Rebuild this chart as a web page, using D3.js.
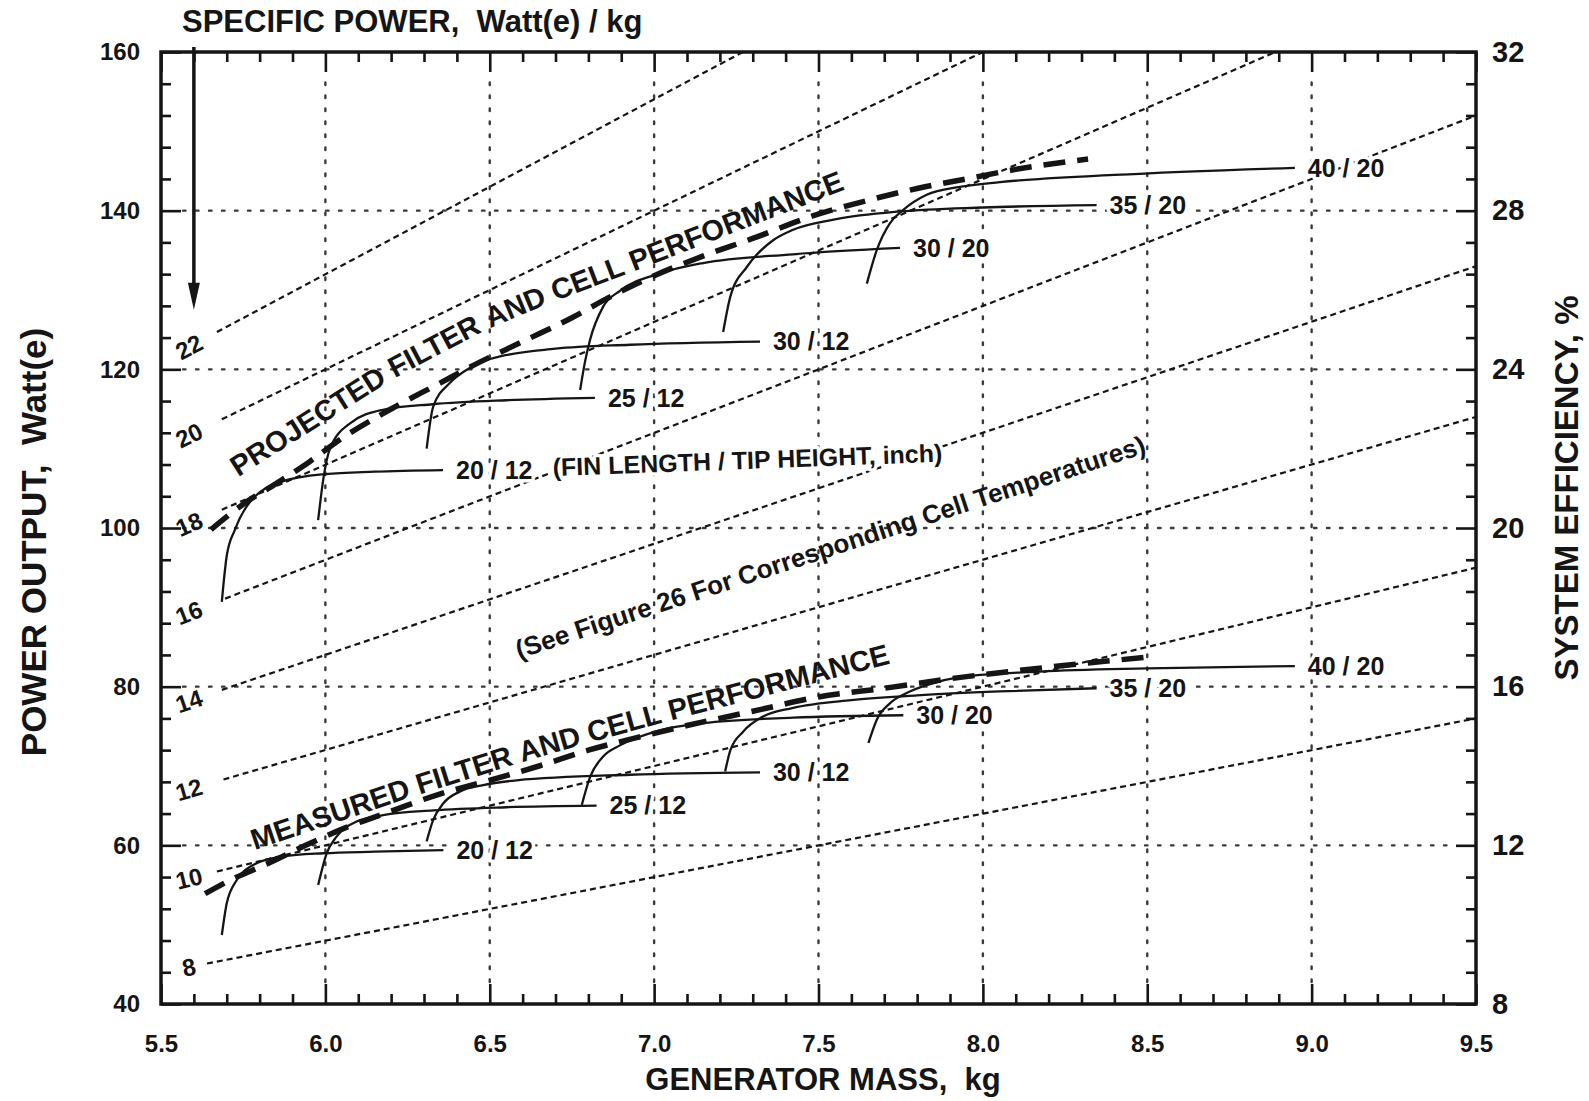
<!DOCTYPE html>
<html><head><meta charset="utf-8">
<script src="https://cdn.jsdelivr.net/npm/d3@7"></script>
<style>
html,body{margin:0;padding:0;background:#fff;}
svg{display:block;}
text{font-family:"Liberation Sans",Arial,Helvetica,sans-serif;font-weight:bold;fill:#151515;white-space:pre;}
.halo{paint-order:stroke;stroke:#fff;stroke-width:7px;stroke-linejoin:round;}
</style></head><body>
<svg id="chart" width="1589" height="1101"></svg>
<script>
// ---------- DATA ----------
const massTicks = [5.5, 6.0, 6.5, 7.0, 7.5, 8.0, 8.5, 9.0, 9.5];
const powerTicks = [40, 60, 80, 100, 120, 140, 160];
const efficiencyTicks = [8, 12, 16, 20, 24, 28, 32];
const massMinorStep = 0.1, powerMinorStep = 4, efficiencyMinorStep = 0.8;

const specificPower = [8, 10, 12, 14, 16, 18, 20, 22];
const specificPowerStart = [[5.64,45.1],[5.67,56.7],[5.69,68.3],[5.685,79.6],[5.695,91.1],[5.685,102.3],[5.685,113.7],[5.67,124.7]];
const specificPowerEnd = [[9.5,76],[9.5,95],[9.5,114],[9.5,133],[9.5,152],[8.89,160],[8.0,160],[7.27,160]];
const specificPowerLabelMass = 5.585;

const finLabels = ["20 / 12", "25 / 12", "30 / 12", "30 / 20", "35 / 20", "40 / 20"];

// projected filter and cell performance (mass kg, power W)
const projected_20_12 = [[5.685,90.7],[5.700,96.5],[5.725,99.8],[5.771,103.3],[5.871,105.9],[5.999,106.8],[6.15,107.1],[6.358,107.3]];
const projected_25_12 = [[5.978,101.0],[5.995,106.5],[6.014,110.0],[6.075,113.2],[6.175,114.9],[6.327,115.6],[6.55,116.1],[6.82,116.4]];
const projected_30_12 = [[6.308,110.0],[6.328,115.3],[6.379,118.3],[6.44,120.2],[6.501,121.3],[6.7,122.6],[6.927,123.1],[7.322,123.5]];
const projected_30_20 = [[6.775,117.4],[6.79,121.0],[6.805,123.7],[6.845,127.9],[6.896,129.9],[7.018,132.1],[7.149,133.4],[7.422,134.5],[7.748,135.3]];
const projected_35_20 = [[7.210,124.7],[7.232,129.2],[7.282,132.9],[7.363,136.3],[7.423,137.6],[7.55,138.9],[7.748,139.9],[8.0,140.4],[8.346,140.7]];
const projected_40_20 = [[7.647,130.8],[7.677,135.0],[7.717,138.4],[7.758,140.1],[7.829,142.0],[7.93,143.0],[8.052,143.6],[8.4,144.5],[8.949,145.4]];
const projectedEnvelope = [[5.652,99.8],[5.75,103.0],[5.85,105.6],[5.95,108.3],[6.05,111.3],[6.2,115.0],[6.35,118.3],[6.45,120.5],[6.6,123.5],[6.75,126.5],[6.86,129.0],[7.0,131.8],[7.15,134.3],[7.3,136.5],[7.48,139.3],[7.65,141.3],[7.8,142.8],[7.95,144.0],[8.1,145.2],[8.32,146.5]];

// measured filter and cell performance
const measured_20_12 = [[5.685,48.7],[5.70,52.7],[5.73,55.6],[5.771,57.3],[5.872,58.6],[5.994,59.0],[6.15,59.2],[6.359,59.4]];
const measured_25_12 = [[5.978,55.0],[6.004,59.0],[6.034,61.1],[6.095,63.0],[6.176,63.8],[6.328,64.4],[6.55,64.8],[6.825,65.0]];
const measured_30_12 = [[6.308,60.5],[6.328,63.2],[6.359,65.3],[6.41,66.8],[6.48,67.6],[6.582,68.2],[6.927,68.9],[7.322,69.2]];
const measured_30_20 = [[6.78,65.1],[6.805,68.6],[6.845,71.2],[6.896,72.6],[7.018,74.5],[7.15,75.4],[7.423,76.1],[7.758,76.4]];
const measured_35_20 = [[7.216,69.3],[7.232,72.0],[7.27,74.3],[7.33,76.2],[7.42,77.3],[7.6,78.3],[7.8,78.9],[8.05,79.4],[8.346,79.8]];
const measured_40_20 = [[7.652,72.9],[7.677,75.8],[7.717,77.9],[7.768,79.2],[7.829,80.2],[7.93,81.2],[8.174,81.9],[8.5,82.3],[8.949,82.6]];
const measuredEnvelope = [[5.634,53.9],[5.70,55.4],[5.83,57.8],[5.94,60.0],[6.06,62.2],[6.2,64.3],[6.35,66.5],[6.5,68.2],[6.65,70.0],[6.8,72.0],[6.95,73.6],[7.1,75.1],[7.3,76.9],[7.5,78.7],[7.7,79.8],[7.9,81.0],[8.1,82.0],[8.3,82.9],[8.52,83.8]];

// annotation baselines (mass, power)
const projectedTitleBaseline = [[5.735,106.4],[6.187,118.3],[6.501,125.2],[6.948,132.5],[7.596,142.9],[7.75,145.0]];
const measuredTitleBaseline = [[5.785,59.4],[6.248,65.9],[6.592,70.4],[6.957,74.7],[7.383,79.3],[7.748,83.2],[7.9,84.5]];
const arrowMass = 5.6, arrowTipPower = 127.5;

const projectedCurves = [projected_20_12, projected_25_12, projected_30_12, projected_30_20, projected_35_20, projected_40_20];
const measuredCurves = [measured_20_12, measured_25_12, measured_30_12, measured_30_20, measured_35_20, measured_40_20];

// ---------- LAYOUT ----------
const L = 161, R = 1476, T = 52, B = 1004;
const INK = "#151515";
const x = d3.scaleLinear().domain([5.5, 9.5]).range([L, R]);
const y = d3.scaleLinear().domain([40, 160]).range([B, T]);
const yR = d3.scaleLinear().domain([8, 32]).range([B, T]);

const svg = d3.select("#chart");
svg.append("rect").attr("width", 1589).attr("height", 1101).attr("fill", "#fff");
const defs = svg.append("defs");
defs.append("clipPath").attr("id", "plotclip")
  .append("rect").attr("x", L).attr("y", T).attr("width", R - L).attr("height", B - T);

// grid
const grid = svg.append("g").attr("stroke", "#3a3a3a").attr("stroke-width", 2.4)
  .attr("stroke-dasharray", "2.5,10.5").attr("stroke-linecap", "round");
grid.selectAll(".vg").data(massTicks.slice(1, -1)).join("line")
  .attr("x1", d => x(d)).attr("x2", d => x(d)).attr("y1", B - 22).attr("y2", T + 22);
grid.selectAll(".hg").data(powerTicks.slice(1, -1)).join("line")
  .attr("y1", d => y(d)).attr("y2", d => y(d)).attr("x1", L + 22).attr("x2", R - 22);

const plot = svg.append("g").attr("clip-path", "url(#plotclip)");

// specific power lines
const line = d3.line().x(d => x(d[0])).y(d => y(d[1]));
plot.selectAll(".sp").data(specificPower).join("path")
  .attr("d", (d, i) => line([specificPowerStart[i], specificPowerEnd[i]]))
  .attr("fill", "none").attr("stroke", INK).attr("stroke-width", 2.2).attr("stroke-dasharray", "6,4");

// specific power labels
specificPower.forEach((sp, i) => {
  const s = specificPowerStart[i], e = specificPowerEnd[i];
  const slope = (e[1] - s[1]) / (e[0] - s[0]);
  const p = s[1] + (specificPowerLabelMass - s[0]) * slope;
  const ang = Math.atan2(y(e[1]) - y(s[1]), x(e[0]) - x(s[0])) * 180 / Math.PI;
  svg.append("text")
    .attr("transform", `translate(${x(specificPowerLabelMass)},${y(p)}) rotate(${ang})`)
    .attr("text-anchor", "middle").attr("dy", "0.36em")
    .attr("font-size", 24).text(sp);
});

// performance curves
const curveLine = d3.line().x(d => x(d[0])).y(d => y(d[1])).curve(d3.curveMonotoneX);
const labelLayer = svg.append("g");
function drawGroup(curves, envelope) {
  plot.append("g").selectAll("path").data(curves).join("path")
    .attr("d", d => curveLine(d)).attr("fill", "none")
    .attr("stroke", INK).attr("stroke-width", 2.3);
  plot.append("path").attr("d", curveLine(envelope)).attr("fill", "none")
    .attr("stroke", INK).attr("stroke-width", 5.5).attr("stroke-dasharray", "22,12");
  curves.forEach((c, i) => {
    const last = c[c.length - 1];
    labelLayer.append("text").attr("class", "halo").attr("x", x(last[0]) + 13).attr("y", y(last[1]))
      .attr("dy", "0.35em").attr("font-size", 25).text(finLabels[i]);
  });
}
drawGroup(projectedCurves, projectedEnvelope);
drawGroup(measuredCurves, measuredEnvelope);

// curved titles, placed word by word along a baseline path
const pathLine = d3.line().x(d => x(d[0])).y(d => y(d[1])).curve(d3.curveCatmullRom.alpha(0.5));
function wordsAlongPath(baseline, str, size) {
  const pathNode = svg.append("path").attr("d", pathLine(baseline))
    .attr("fill", "none").attr("stroke", "none").node();
  const tmp = svg.append("text").attr("font-size", size);
  const wA = tmp.text("a a").node().getComputedTextLength();
  const wB = tmp.text("aa").node().getComputedTextLength();
  const spaceW = wA - wB;
  let s = 0;
  str.split(" ").forEach(w => {
    tmp.text(w);
    const wl = tmp.node().getComputedTextLength();
    const p0 = pathNode.getPointAtLength(s), p1 = pathNode.getPointAtLength(s + wl);
    const ang = Math.atan2(p1.y - p0.y, p1.x - p0.x) * 180 / Math.PI;
    svg.append("text").attr("font-size", size)
      .attr("transform", `translate(${p0.x},${p0.y}) rotate(${ang})`).text(w);
    s += wl + spaceW;
  });
  tmp.remove();
}
wordsAlongPath(projectedTitleBaseline, "PROJECTED FILTER AND CELL PERFORMANCE", 29);
wordsAlongPath(measuredTitleBaseline, "MEASURED FILTER AND CELL PERFORMANCE", 29);

// other annotations
svg.append("text").attr("class", "halo").attr("transform", "translate(553,476) rotate(-2.1)")
  .attr("font-size", 25).text("(FIN LENGTH / TIP HEIGHT, inch)");
svg.append("text").attr("transform", "translate(519,659) rotate(-18.2)")
  .attr("font-size", 26).text("(See Figure 26 For Corresponding Cell Temperatures)");

// arrow
const ax = x(arrowMass), tipY = y(arrowTipPower);
svg.append("line").attr("x1", ax).attr("x2", ax).attr("y1", T - 5).attr("y2", tipY - 20)
  .attr("stroke", INK).attr("stroke-width", 3.5);
svg.append("path").attr("d", `M${ax - 6},${tipY - 27} L${ax + 6},${tipY - 27} L${ax},${tipY} Z`).attr("fill", INK);

// axes
function styleAxis(g, size) {
  g.select(".domain").remove();
  g.attr("font-family", null).attr("font-size", null);
  g.selectAll(".tick line").attr("stroke", INK).attr("stroke-width", 2.6);
  g.selectAll(".tick text").attr("font-size", size).attr("fill", INK);
}
const minorMass = d3.range(5.5, 9.5001, massMinorStep).filter(v => Math.abs(v * 2 - Math.round(v * 2)) > 1e-6);
const minorPower = d3.range(40, 160.001, powerMinorStep).filter(v => v % 20 !== 0);
const minorEff = d3.range(8, 32.001, efficiencyMinorStep).filter(v => Math.abs(v / 4 - Math.round(v / 4)) > 1e-6);

svg.append("g").attr("transform", `translate(0,${B})`)
  .call(d3.axisBottom(x).tickValues(massTicks).tickSize(-20).tickPadding(31).tickFormat(d3.format(".1f")))
  .call(g => styleAxis(g, 24));
svg.append("g").attr("transform", `translate(0,${B})`)
  .call(d3.axisBottom(x).tickValues(minorMass).tickSize(-10).tickFormat(""))
  .call(g => styleAxis(g, 24));
svg.append("g").attr("transform", `translate(0,${T})`)
  .call(d3.axisTop(x).tickValues(massTicks).tickSize(-20).tickFormat(""))
  .call(g => styleAxis(g, 24));
svg.append("g").attr("transform", `translate(0,${T})`)
  .call(d3.axisTop(x).tickValues(minorMass).tickSize(-10).tickFormat(""))
  .call(g => styleAxis(g, 24));
svg.append("g").attr("transform", `translate(${L},0)`)
  .call(d3.axisLeft(y).tickValues(powerTicks).tickSize(-20).tickPadding(21))
  .call(g => styleAxis(g, 24));
svg.append("g").attr("transform", `translate(${L},0)`)
  .call(d3.axisLeft(y).tickValues(minorPower).tickSize(-10).tickFormat(""))
  .call(g => styleAxis(g, 24));
svg.append("g").attr("transform", `translate(${R},0)`)
  .call(d3.axisRight(yR).tickValues(efficiencyTicks).tickSize(-20).tickPadding(16))
  .call(g => styleAxis(g, 29));
svg.append("g").attr("transform", `translate(${R},0)`)
  .call(d3.axisRight(yR).tickValues(minorEff).tickSize(-10).tickFormat(""))
  .call(g => styleAxis(g, 29));

// frame
svg.append("rect").attr("x", L).attr("y", T).attr("width", R - L).attr("height", B - T)
  .attr("fill", "none").attr("stroke", INK).attr("stroke-width", 3.5);

// axis titles
svg.append("text").attr("x", 182).attr("y", 32).attr("font-size", 31).text("SPECIFIC POWER,  Watt(e) / kg");
svg.append("text").attr("x", 823).attr("y", 1090).attr("text-anchor", "middle")
  .attr("font-size", 31).text("GENERATOR MASS,  kg");
svg.append("text").attr("transform", "translate(46,542) rotate(-90)").attr("text-anchor", "middle")
  .attr("font-size", 35).text("POWER OUTPUT,  Watt(e)");
svg.append("text").attr("transform", "translate(1578,488) rotate(-90)").attr("text-anchor", "middle")
  .attr("font-size", 33).text("SYSTEM EFFICIENCY, %");
</script>
</body></html>
